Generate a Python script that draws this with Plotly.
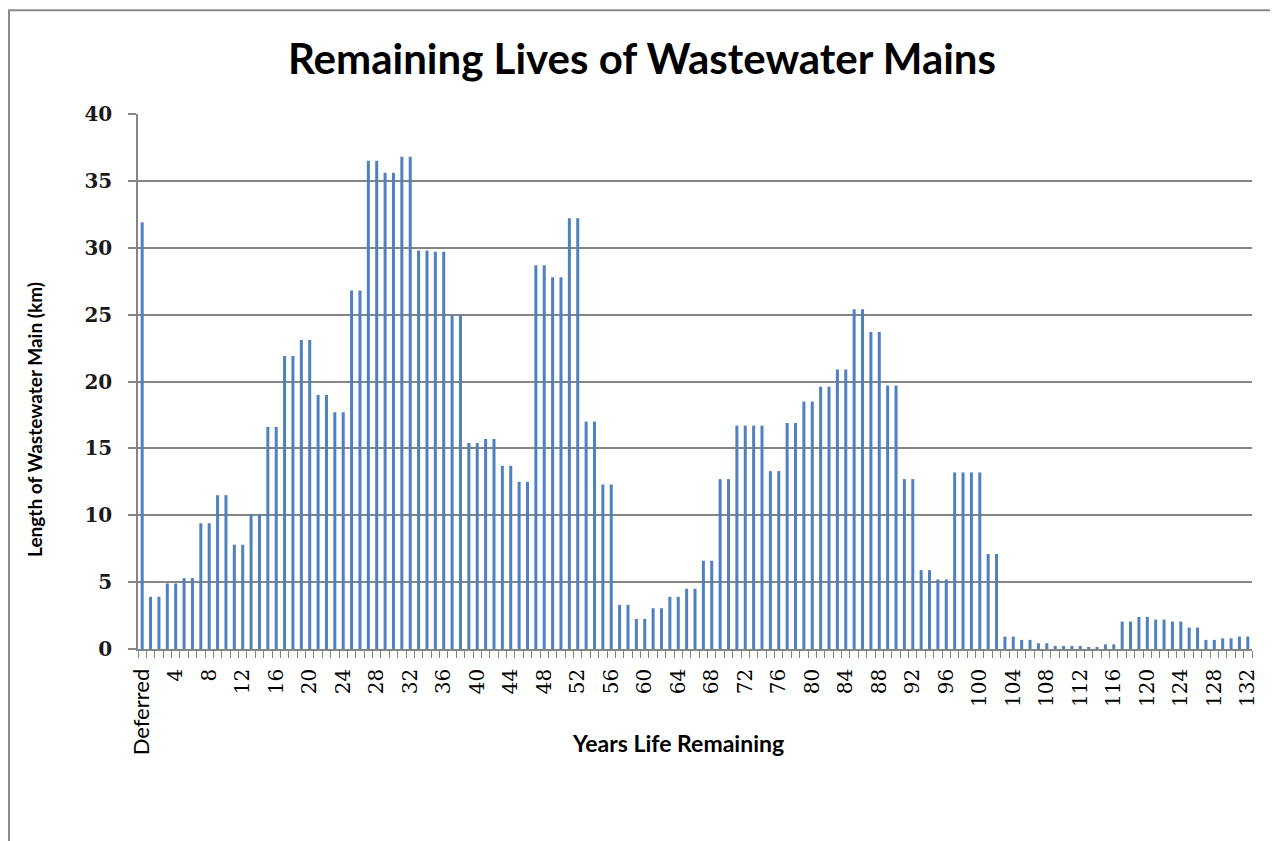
import plotly.graph_objects as go

# categories: Deferred then years 1..132
categories = ["Deferred"] + [str(y) for y in range(1, 133)]

lengths_km = [
    31.9,
    3.9, 3.9, 4.9, 4.9, 5.3, 5.3, 9.4, 9.4, 11.5, 11.5,
    7.8, 7.8, 10.1, 10.1, 16.6, 16.6, 21.9, 21.9, 23.1, 23.1,
    19.0, 19.0, 17.7, 17.7, 26.8, 26.8, 36.5, 36.5, 35.6, 35.6,
    36.8, 36.8, 29.8, 29.8, 29.7, 29.7, 25.0, 25.0, 15.4, 15.4,
    15.7, 15.7, 13.7, 13.7, 12.5, 12.5, 28.7, 28.7, 27.8, 27.8,
    32.2, 32.2, 17.0, 17.0, 12.3, 12.3, 3.3, 3.3, 2.25, 2.25,
    3.05, 3.05, 3.9, 3.9, 4.5, 4.5, 6.6, 6.6, 12.7, 12.7,
    16.7, 16.7, 16.7, 16.7, 13.3, 13.3, 16.9, 16.9, 18.5, 18.5,
    19.6, 19.6, 20.9, 20.9, 25.4, 25.4, 23.7, 23.7, 19.7, 19.7,
    12.7, 12.7, 5.9, 5.9, 5.2, 5.2, 13.2, 13.2, 13.2, 13.2,
    7.1, 7.1, 0.93, 0.93, 0.68, 0.68, 0.43, 0.43, 0.23, 0.23,
    0.23, 0.23, 0.13, 0.13, 0.35, 0.35, 2.05, 2.05, 2.4, 2.4,
    2.2, 2.2, 2.05, 2.05, 1.6, 1.6, 0.68, 0.68, 0.8, 0.8,
    0.93, 0.93,
]

# every 4th category gets a label, like the Excel axis
label_idx = list(range(0, len(categories), 4))
label_txt = [categories[i] for i in label_idx]
label_txt[0] = "<span style='font-family:Lato;font-size:22px'>Deferred</span>"

x_pos = list(range(len(categories)))

fig = go.Figure(go.Bar(
    x=x_pos,
    y=lengths_km,
    marker=dict(color="#4F81BD", line=dict(width=0)),
))

grid = "#858585"

# page body has an 8px margin, so the figure is a little smaller than the window
fig.update_layout(
    width=1270, height=833,
    margin=dict(l=130, r=26, t=106, b=192),
    paper_bgcolor="white", plot_bgcolor="white",
    bargap=0.64,
    showlegend=False,
    xaxis=dict(
        range=[-0.5, len(categories) - 0.5],
        tickmode="array", tickvals=label_idx, ticktext=label_txt,
        tickangle=-90, ticks="", ticklabelstandoff=10,
        tickfont=dict(family="DejaVu Serif", size=20, color="black"),
        showline=True, linecolor=grid, linewidth=1.5,
        showgrid=False, zeroline=False,
        minor=dict(ticks="outside", tick0=0.5, dtick=1, ticklen=7,
                   tickcolor=grid, tickwidth=1, showgrid=False),
    ),
    yaxis=dict(
        range=[0, 40], dtick=5,
        ticks="outside", ticklen=8, tickcolor=grid, tickwidth=1.5,
        ticklabelstandoff=12,
        tickfont=dict(family="DejaVu Serif", size=20, color="#1a1a1a",
                      weight="bold"),
        showline=True, linecolor=grid, linewidth=1.5,
        showgrid=True, gridcolor=grid, gridwidth=1.5,
        zeroline=False,
    ),
    annotations=[
        dict(text="<b>Remaining Lives of Wastewater Mains</b>",
             xref="paper", yref="paper", x=0.4524, y=1.1047,
             xanchor="center", yanchor="middle", showarrow=False,
             font=dict(family="Lato", size=42, color="black")),
        dict(text="<b>Length of Wastewater Main (km)</b>",
             xref="paper", yref="paper", x=-0.0925, y=0.430,
             xanchor="center", yanchor="middle", showarrow=False,
             textangle=-90,
             font=dict(family="Lato", size=19, color="black")),
        dict(text="<b>Years Life Remaining</b>",
             xref="paper", yref="paper", x=0.4847, y=-0.1757,
             xanchor="center", yanchor="middle", showarrow=False,
             font=dict(family="Lato", size=23, color="black")),
    ],
    shapes=[
        dict(type="rect", xref="paper", yref="paper",
             x0=-0.1158, x1=1.018, y0=-0.45, y1=1.194,
             line=dict(color="#8a8a8a", width=2), layer="below"),
    ],
)

fig.write_html("out.html")
